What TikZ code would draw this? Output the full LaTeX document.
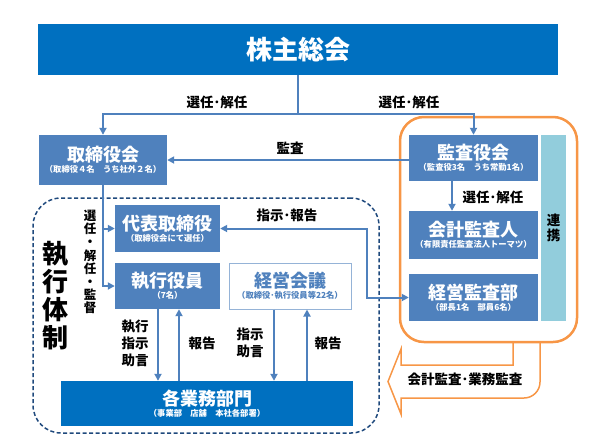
\documentclass[tikz,border=0pt]{standalone}
\usepackage{fontspec}
\newfontfamily\jp{Noto Sans CJK JP}
\usetikzlibrary{arrows.meta}
\definecolor{dblue}{HTML}{0070C0}
\definecolor{mblue}{HTML}{4F81BD}
\definecolor{lblue}{HTML}{92CDDC}
\definecolor{orng}{HTML}{F79646}
\definecolor{navy}{HTML}{1F497D}
\definecolor{pale}{HTML}{95B3D7}
\newcommand\ttlA[1]{{\fontsize{18}{19}\selectfont #1}}
\newcommand\subA[1]{{\fontsize{8.3}{9.5}\selectfont #1}}
\begin{document}
\begin{tikzpicture}[x=1pt,y=-1pt,font=\jp\bfseries,
  box/.style={fill=mblue,text=white,inner sep=0pt,align=center},
  conn/.style={draw=mblue,line width=2pt},
  arr/.style={conn,-{Triangle[length=7pt,width=7pt]}},
  darr/.style={conn,{Triangle[length=7pt,width=7pt]}-{Triangle[length=7pt,width=7pt]}},
  lbl/.style={inner sep=0pt,align=center,font=\jp\bfseries\fontsize{13.5}{17}\selectfont},
  vlbl/.style={inner sep=0pt,align=center,font=\jp\bfseries\fontsize{12.5}{13.2}\selectfont},
  orframe/.style={draw=orng,line width=2.5pt,rounded corners=24pt,inner sep=0pt},
  dashframe/.style={draw=navy,line width=1.5pt,dash pattern=on 4pt off 2.5pt,rounded corners=28pt,inner sep=0pt}]
\useasboundingbox (0,0) rectangle (593,445);

% frames
\node[dashframe,minimum width=346pt,minimum height=235pt] (exec) at (206,315.5) {};
\node[orframe,minimum width=177pt,minimum height=225pt] (audit) at (488.5,229.5) {};

% boxes
\node[box,fill=dblue,minimum width=520pt,minimum height=51pt] (soukai) at (298,49.5) {\fontsize{26}{28}\selectfont 株主総会};
\node[box,minimum width=128pt,minimum height=50pt] (tori) at (103,160) {\ttlA{取締役会}\\[-1pt]\subA{（取締役４名　うち社外２名）}};
\node[box,minimum width=129pt,minimum height=46pt] (kansa) at (473.5,158) {\ttlA{監査役会}\\[-1pt]\subA{（監査役3名　うち常勤1名）}};
\node[box,minimum width=129pt,minimum height=48pt] (kaikei) at (473.5,235) {\ttlA{会計監査人}\\[-1pt]\subA{（有限責任監査法人トーマツ）}};
\node[box,minimum width=129pt,minimum height=47pt] (keikan) at (473.5,297.5) {\ttlA{経営監査部}\\[-1pt]\subA{（部長1名　部員6名）}};
\node[fill=lblue,minimum width=25pt,minimum height=186pt,inner sep=0pt,align=center,font=\jp\bfseries\fontsize{13.5}{14.5}\selectfont] (renkei) at (553.5,228) {連\\携};
\node[box,minimum width=105pt,minimum height=47pt] (daihyo) at (167.5,228.5) {\ttlA{代表取締役}\\[-1pt]\subA{（取締役会にて選任）}};
\node[box,minimum width=105pt,minimum height=46pt] (shikko) at (167.5,286) {\ttlA{執行役員}\\[-1pt]\subA{（7名）}};
\node[box,fill=white,draw=pale,line width=1pt,text=mblue,minimum width=122pt,minimum height=46pt] (kaigi) at (290,286) {\ttlA{経営会議}\\[-1pt]\subA{（取締役･執行役員等22名）}};
\node[box,fill=dblue,minimum width=292pt,minimum height=45pt] (gyomu) at (207,403.5) {\ttlA{各業務部門}\\[-1pt]\subA{（事業部　店舗　本社各部署）}};

% connectors
\coordinate (j0) at (298,114);
\draw[conn] (soukai.south) -- (j0);
\draw[arr] (j0) -| (tori.north);
\draw[arr] (j0) -| (kansa.north);
\draw[arr] (kansa.west |- tori.east) -- (tori.east);
\draw[arr] ([xshift=-21.5pt]kansa.south) -- ([xshift=-21.5pt]kaikei.north);
\draw[arr] (tori.south) |- (shikko.west);
\draw[arr] (tori.south |- daihyo.west) -- (daihyo.west);
\coordinate (k1) at (367,0);
\draw[darr] (daihyo.east) -- (daihyo.east -| k1) |- (keikan.west);
\draw[arr] ([xshift=-9.5pt]shikko.south) -- ([xshift=-9.5pt]shikko.south |- gyomu.north);
\draw[arr] ([xshift=11.5pt]shikko.south |- gyomu.north) -- ([xshift=11.5pt]shikko.south);
\draw[arr] ([xshift=-16pt]kaigi.south) -- ([xshift=-16pt]kaigi.south |- gyomu.north);
\draw[arr] ([xshift=17pt]kaigi.south |- gyomu.north) -- ([xshift=17pt]kaigi.south);

% orange U-arrow
\draw[orng,line width=1.5pt,line join=miter] (513,342) -- (513,365) -- (401,365) -- (401,349) -- (388,381.5) -- (401,414) -- (401,398) -- (524,398) arc[start angle=90,end angle=0,radius=16] -- (540,342);

% labels
\node[lbl] at (217,102) {選任･解任};
\node[lbl] at (409,102) {選任･解任};
\node[lbl] at (290,148) {監査};
\node[lbl] at (493,197) {選任･解任};
\node[lbl] at (287,215) {指示･報告};
\node[lbl] at (465,379) {会計監査･業務監査};
\node[vlbl] at (90,262) {選\\任\\・\\解\\任\\・\\監\\督};
\node[inner sep=0pt,align=center,font=\jp\bfseries\fontsize{26}{28}\selectfont] at (55,295.5) {執\\行\\体\\制};
\node[lbl] at (135,343) {執行\\指示\\助言};
\node[lbl] at (202,343) {報告};
\node[lbl] at (250,343) {指示\\助言};
\node[lbl] at (328,343) {報告};
\end{tikzpicture}
\end{document}
